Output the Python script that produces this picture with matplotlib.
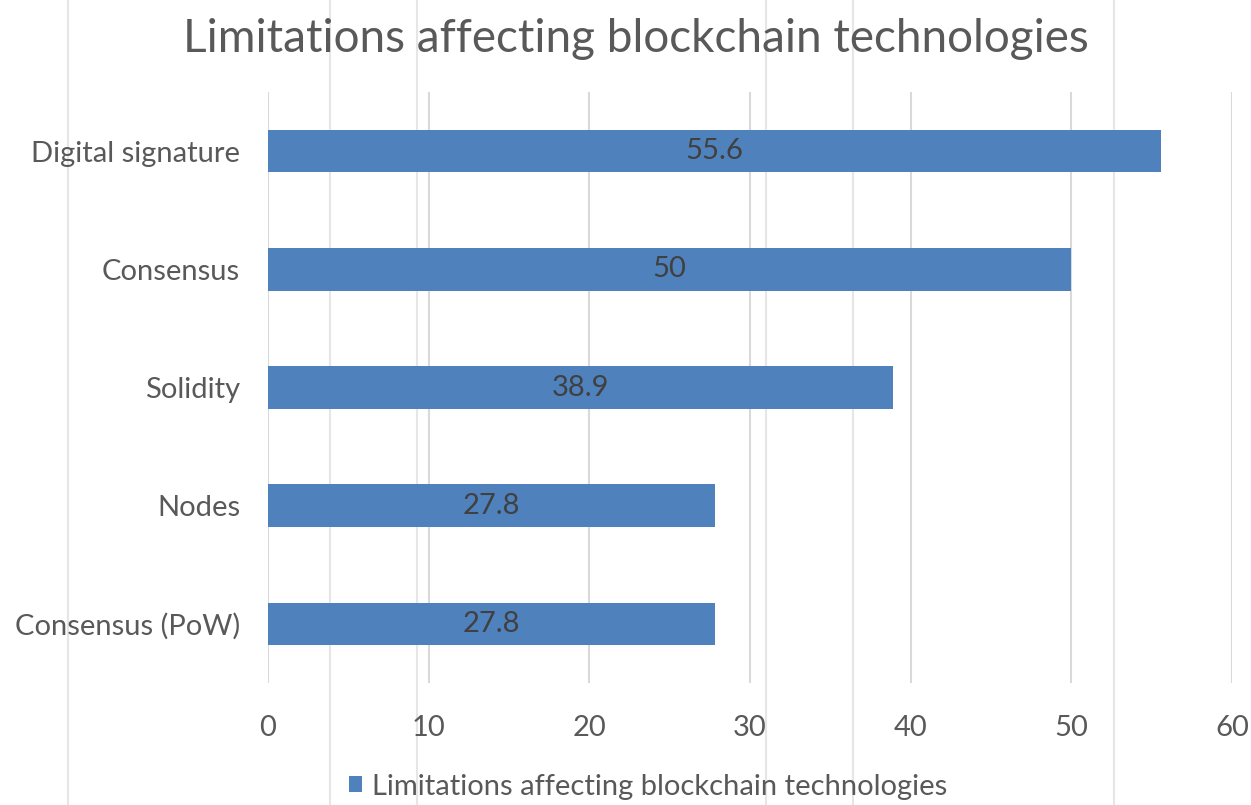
import matplotlib
matplotlib.use('Agg')
import matplotlib.pyplot as plt
from matplotlib.lines import Line2D

# Data
categories = ['Consensus (PoW)', 'Nodes', 'Solidity', 'Consensus', 'Digital signature']
values     = [27.8, 27.8, 38.9, 50, 55.6]
series     = 'Limitations affecting blockchain technologies'
xticks     = [0, 10, 20, 30, 40, 50, 60]

# Style
plt.rcParams['font.family'] = ['Lato', 'DejaVu Sans']
bar_colour  = '#4f81bd'
text_colour = '#595959'
grid_colour = '#d9d9d9'

fig = plt.figure(figsize=(12.51, 8.05), dpi=100)

# Sheet cell borders behind the chart
for xf in [68, 330, 417, 766, 853, 1114]:
    fig.add_artist(Line2D([xf / 1251, xf / 1251], [0, 1], color='#e6e6e6', lw=1.5, zorder=0))

ax = fig.add_axes([268 / 1251, 1 - 683 / 805, (1232 - 268) / 1251, (683 - 92) / 805])
ax.set_facecolor('none')

bars = ax.barh(categories, values, height=0.36, color=bar_colour, zorder=3, label=series)
ax.bar_label(bars, fmt='%g', label_type='center', color='#404040', fontsize=21)

ax.set_xlim(0, 60)
ax.set_ylim(-0.5, len(categories) - 0.5)
ax.set_xticks(xticks)
ax.grid(axis='x', color=grid_colour, lw=1.5, zorder=0)
ax.tick_params(length=0, labelsize=21, colors=text_colour)
ax.tick_params(axis='y', pad=20)
ax.tick_params(axis='x', pad=23)
for s in ax.spines.values():
    s.set_visible(False)

fig.suptitle(series, x=0.508, y=0.978, fontsize=33, color=text_colour, va='top')
fig.legend(handles=[bars], labels=[series], loc='lower center', bbox_to_anchor=(0.518, -0.026),
           frameon=False, fontsize=21, labelcolor=text_colour, handlelength=0.45, handleheight=0.45,
           handletextpad=0.35)

fig.savefig('out.png', dpi=100)
